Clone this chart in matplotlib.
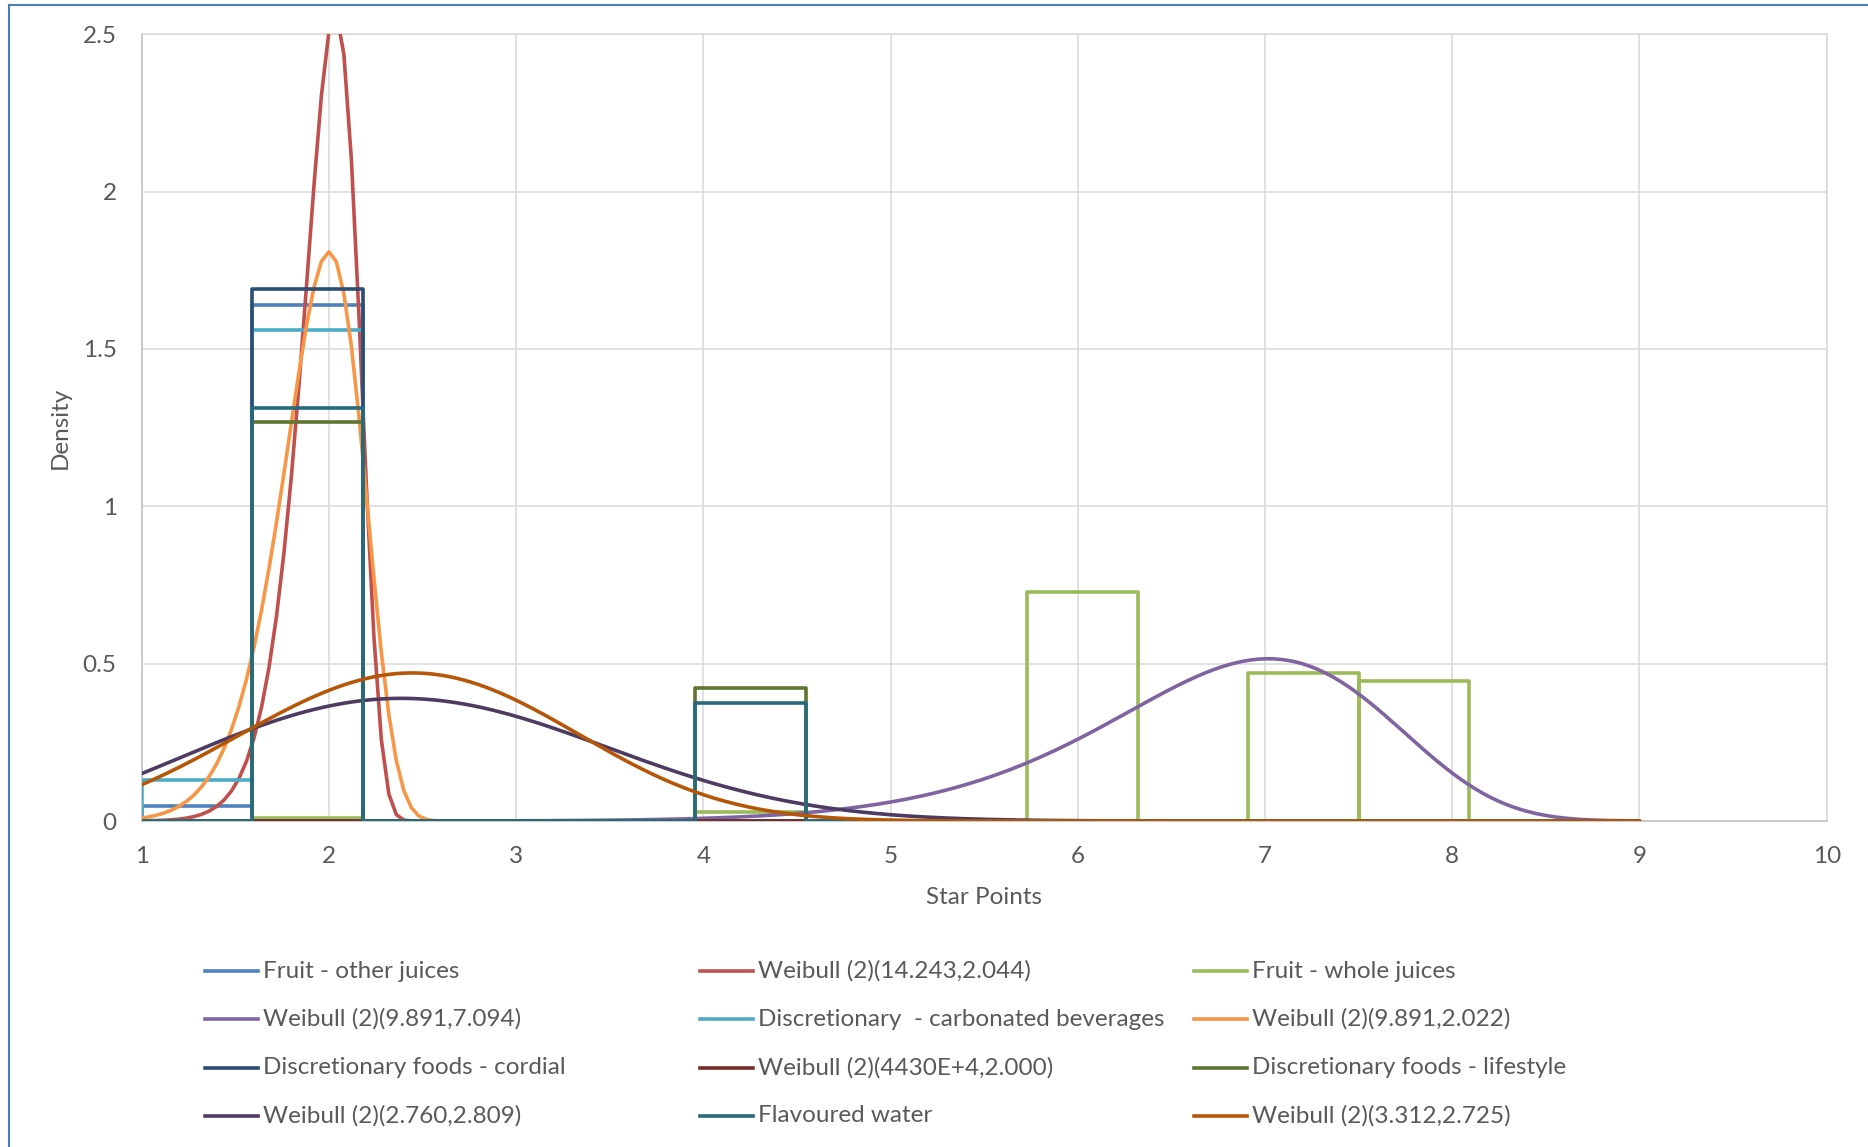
import numpy as np
import matplotlib

matplotlib.use("Agg")
from matplotlib import pyplot as plt
from matplotlib.lines import Line2D

# histogram bins (Star Points) shared by every food group
bin_edges = [1.0, 1.591, 2.182, 2.773, 3.364, 3.955, 4.546, 5.137,
             5.728, 6.319, 6.910, 7.501, 8.092, 8.683]

# density per bin
other_juices = [0.049, 1.641, 0, 0, 0, 0, 0, 0, 0, 0, 0, 0, 0]
whole_juices = [0, 0.010, 0, 0, 0, 0.028, 0, 0, 0.728, 0, 0.471, 0.445, 0]
carbonated = [0.129, 1.559, 0, 0, 0, 0, 0, 0, 0, 0, 0, 0, 0]
cordial = [0, 1.690, 0, 0, 0, 0, 0, 0, 0, 0, 0, 0, 0]
lifestyle = [0, 1.267, 0, 0, 0, 0.422, 0, 0, 0, 0, 0, 0, 0]
flavoured_water = [0, 1.313, 0, 0, 0, 0.375, 0, 0, 0, 0, 0, 0, 0]

# fitted two-parameter Weibull curves: (shape, scale)
fit_shape = [14.243, 9.891, 9.891, 4430e4, 2.760, 3.312]
fit_scale = [2.044, 7.094, 2.022, 2.000, 2.809, 2.725]
fit_labels = ["Weibull (2)(14.243,2.044)", "Weibull (2)(9.891,7.094)",
              "Weibull (2)(9.891,2.022)", "Weibull (2)(4430E+4,2.000)",
              "Weibull (2)(2.760,2.809)", "Weibull (2)(3.312,2.725)"]
fit_x = np.round(np.arange(1.0, 9.0001, 0.04), 2)

x_ticks = [1, 2, 3, 4, 5, 6, 7, 8, 9, 10]
y_ticks = [0, 0.5, 1, 1.5, 2, 2.5]
y_tick_labels = ["0", "0.5", "1", "1.5", "2", "2.5"]

TEXT = "#595959"
GRID = "#D9D9D9"
AXIS = "#BFBFBF"
FONT = "Lato"
FS = 17.5
LW = 2.6

plt.rcParams["font.family"] = [FONT, "DejaVu Sans"]


def bar_outline(edges, heights):
    xs, ys = [edges[0]], [0.0]
    for left, right, h in zip(edges[:-1], edges[1:], heights):
        xs += [left, right, right]
        ys += [h, h, 0.0]
    return xs, ys


def weibull_pdf(x, shape, scale):
    if shape > 1e6:
        # the 4430E+4 fit is numerically zero everywhere on the grid
        return np.zeros_like(x)
    z = x / scale
    return (shape / scale) * z ** (shape - 1) * np.exp(-z ** shape)


fig = plt.figure(figsize=(18.68, 11.47), dpi=100)
ax = fig.add_axes([141.7 / 1868, 1 - 821 / 1147, 1685 / 1868, 786.7 / 1147])

fits = {lab: weibull_pdf(fit_x, k, s) for lab, k, s in zip(fit_labels, fit_shape, fit_scale)}

# (label, kind, data, colour) in drawing / legend order
series = [
    ("Fruit - other juices", "hist", other_juices, "#4F81BD"),
    (fit_labels[0], "fit", fits[fit_labels[0]], "#C0504D"),
    ("Fruit - whole juices", "hist", whole_juices, "#9BBB59"),
    (fit_labels[1], "fit", fits[fit_labels[1]], "#8064A2"),
    ("Discretionary  - carbonated beverages", "hist", carbonated, "#4BACC6"),
    (fit_labels[2], "fit", fits[fit_labels[2]], "#F79646"),
    ("Discretionary foods - cordial", "hist", cordial, "#2C4D75"),
    (fit_labels[3], "fit", fits[fit_labels[3]], "#772C2A"),
    ("Discretionary foods - lifestyle", "hist", lifestyle, "#5F7530"),
    (fit_labels[4], "fit", fits[fit_labels[4]], "#4D3B62"),
    ("Flavoured water", "hist", flavoured_water, "#276A7C"),
    (fit_labels[5], "fit", fits[fit_labels[5]], "#B65708"),
]

for label, kind, data, colour in series:
    if kind == "hist":
        xs, ys = bar_outline(bin_edges, data)
    else:
        xs, ys = fit_x, data
    ax.plot(xs, ys, color=colour, lw=LW, solid_joinstyle="round",
            solid_capstyle="round", zorder=3)

ax.set_xlim(1, 10)
ax.set_ylim(0, 2.5)
ax.set_xticks(x_ticks)
ax.set_yticks(y_ticks)
ax.set_yticklabels(y_tick_labels)
ax.grid(True, color=GRID, lw=1.1, zorder=0)
ax.tick_params(length=0, labelsize=FS, labelcolor=TEXT, pad=18)
for side in ("top", "right"):
    ax.spines[side].set_color(GRID)
    ax.spines[side].set_linewidth(1.1)
for side in ("left", "bottom"):
    ax.spines[side].set_color(AXIS)
    ax.spines[side].set_linewidth(1.1)

fig.text(60 / 1868, 1 - 428 / 1147, "Density", rotation=90, ha="center",
         va="center", fontsize=FS, color=TEXT)
fig.text(984 / 1868, 1 - 898 / 1147, "Star Points", ha="center",
         va="center", fontsize=FS, color=TEXT)

# legend: three evenly spaced columns, filled row by row
col_x = [205, 700, 1194]
row_y = [971, 1019, 1068, 1116]
for i, (label, _, _, colour) in enumerate(series):
    row, col = divmod(i, 3)
    x0, y0 = col_x[col], 1 - row_y[row] / 1147
    fig.add_artist(Line2D([x0 / 1868, (x0 + 53) / 1868], [y0, y0],
                          color=colour, lw=LW, transform=fig.transFigure))
    fig.text((x0 + 58) / 1868, y0, label, ha="left", va="center",
             fontsize=FS, color=TEXT)

# chart frame edges
fig.add_artist(Line2D([8.5 / 1868, 1], [1 - 5 / 1147, 1 - 5 / 1147],
                      color="#4A7EBB", lw=1.5, transform=fig.transFigure))
fig.add_artist(Line2D([8.5 / 1868, 8.5 / 1868], [0, 1 - 5 / 1147],
                      color="#4A7EBB", lw=1.5, transform=fig.transFigure))

fig.savefig("out.png", dpi=100)
